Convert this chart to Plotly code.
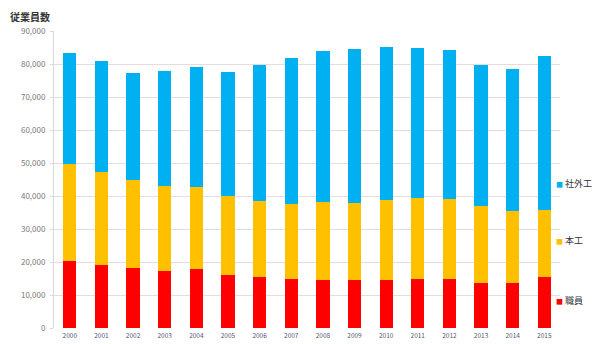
import plotly.graph_objects as go

years = [str(y) for y in range(2000, 2016)]
shokuin = [20400, 19100, 18300, 17400, 17800, 16100, 15600, 14800, 14500, 14500, 14500, 15000, 15000, 13700, 13600, 15600]
honko_top = [49700, 47200, 44700, 43100, 42600, 40000, 38600, 37500, 38300, 38000, 38800, 39300, 39100, 37100, 35600, 35800]
total = [83300, 81000, 77400, 78000, 79200, 77600, 79800, 81700, 84000, 84500, 85200, 84700, 84200, 79600, 78500, 82500]

honko = [t - s for t, s in zip(honko_top, shokuin)]
shagaiko = [t - h for t, h in zip(total, honko_top)]

series_names = ["職員", "本工", "社外工"]
series_vals = [shokuin, honko, shagaiko]
colors = ["#FF0000", "#FFC000", "#00B0F0"]
legend_y = [0.094, 0.296, 0.488]

fig = go.Figure()
for name, vals, c, ly in zip(series_names, series_vals, colors, legend_y):
    fig.add_trace(go.Bar(x=years, y=vals, name=name, showlegend=False,
                         marker=dict(color=c, line=dict(width=0))))
    fig.add_annotation(
        text=f'<span style="color:{c};font-size:7px">■</span> {name}',
        xref="paper", yref="paper", x=0.928, y=ly, xanchor="left", yanchor="middle",
        showarrow=False, font=dict(size=9, color="#333333"))

fig.update_layout(
    barmode="stack",
    bargap=0.58,
    width=595, height=344,
    margin=dict(l=54, r=2, t=31, b=16, autoexpand=False),
    paper_bgcolor="white", plot_bgcolor="white",
    font=dict(family="Noto Sans CJK JP, Noto Sans, sans-serif", size=7, color="#555555"),
    showlegend=False,
)
fig.update_xaxes(type="category", showgrid=False, ticks="", tickfont=dict(size=6.5, color="#555577"),
                 showline=False, domain=[0, 0.939], ticklabelstandoff=2)
fig.update_yaxes(range=[0, 90000], dtick=10000, tickformat=",d", showgrid=True,
                 gridcolor="#E6DCDC", gridwidth=1, showline=True, linecolor="#D9D9D9",
                 zeroline=False, ticks="outside", ticklen=3, tickcolor="#D9D9D9",
                 tickfont=dict(size=8, color="#777777"), ticklabelstandoff=3)
fig.add_annotation(text="<b>従業員数</b>", xref="paper", yref="paper", x=-0.085, y=1.0,
                   xanchor="left", yanchor="bottom", yshift=5, showarrow=False,
                   font=dict(size=10, color="#333333"))
fig.write_html("out.html")
